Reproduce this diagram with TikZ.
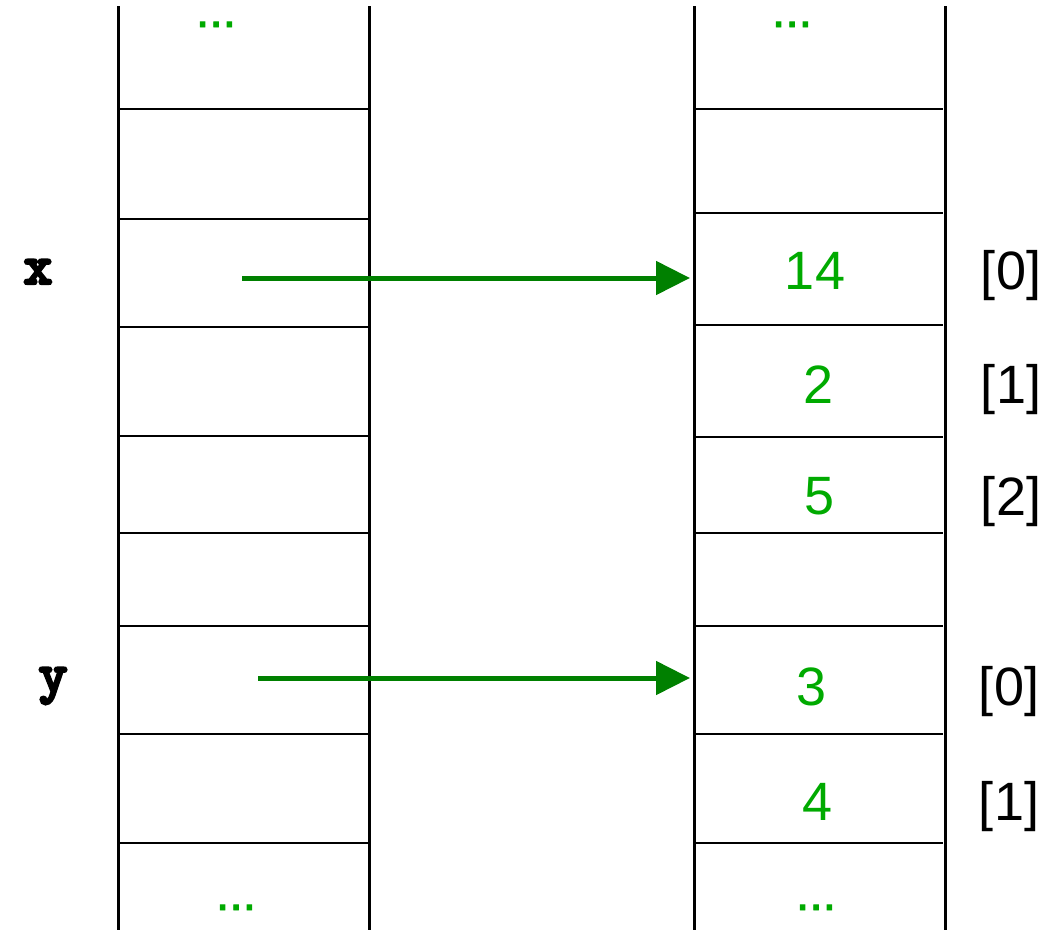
\documentclass[tikz,border=0pt]{standalone}
\usepackage{fontspec}
\setmainfont{Liberation Sans}
\newfontfamily\codefont{lmmonolt10-bold.otf}[FakeBold=4]
\newfontfamily\dotfont{Liberation Sans}[FakeBold=2]
\usetikzlibrary{arrows.meta}
\definecolor{valgreen}{HTML}{00AA00}
\definecolor{arrowgreen}{HTML}{008000}
\begin{document}
\begin{tikzpicture}[x=1pt,y=-1pt,
  wall/.style={line width=3pt,black},
  sep/.style={line width=2.7pt,black},
  val/.style={anchor=base,inner sep=0pt,text=valgreen,font=\fontsize{54}{60}\selectfont},
  idx/.style={anchor=base,inner sep=0pt,text=black,font=\fontsize{54}{60}\selectfont},
  dots/.style={anchor=base,inner sep=0pt,text height=6pt,text depth=0pt,text=valgreen,font=\dotfont\fontsize{48}{54}\selectfont},
  var/.style={anchor=base,inner sep=0pt,text=black,font=\codefont\fontsize{56}{60}\selectfont},
  ptr/.style={line width=5pt,arrowgreen,-{Triangle[length=34pt,width=33pt]}}]
\useasboundingbox (0,0) rectangle (1047,930);
% column walls
\draw[wall] (118,6) -- (118,930);
\draw[wall] (369,6) -- (369,930);
\draw[wall] (694,6) -- (694,930);
\draw[wall] (945,6) -- (945,930);
% left separators
\foreach \yy in {109,219,327,436,533,626,734,843}
  \draw[sep] (119,\yy) -- (368,\yy);
% right separators
\foreach \yy in {109,213,325,437,533,626,734,843}
  \draw[sep] (695,\yy) -- (943,\yy);
% dots
\node[dots] (dlt) at (216,27) {...};
\node[dots] (drt) at (792,27) {...};
\node[dots] (dlb) at (236,910) {...};
\node[dots] (drb) at (816,910) {...};
% variable names
\node[var] (vx) at (38,284) {x};
\node[var] (vy) at (53,692) {y};
% values
\node[val] (v14) at (815,289) {14};
\node[val] (v2) at (819,403) {2};
\node[val] (v5) at (820,514) {5};
\node[val] (v3) at (812,705) {3};
\node[val] (v4) at (818,820) {4};
% indices
\node[idx] (i0a) at (1011,289) {[0]};
\node[idx] (i1a) at (1011,403) {[1]};
\node[idx] (i2a) at (1011,515) {[2]};
\node[idx] (i0b) at (1009,705) {[0]};
\node[idx] (i1b) at (1009,820) {[1]};
% pointer ends
\coordinate (xs) at (242,278);
\coordinate (xe) at (690,278);
\coordinate (ys) at (258,678);
\coordinate (ye) at (690,678);
\draw[ptr] (xs) -- (xe);
\draw[ptr] (ys) -- (ye);
\end{tikzpicture}
\end{document}
